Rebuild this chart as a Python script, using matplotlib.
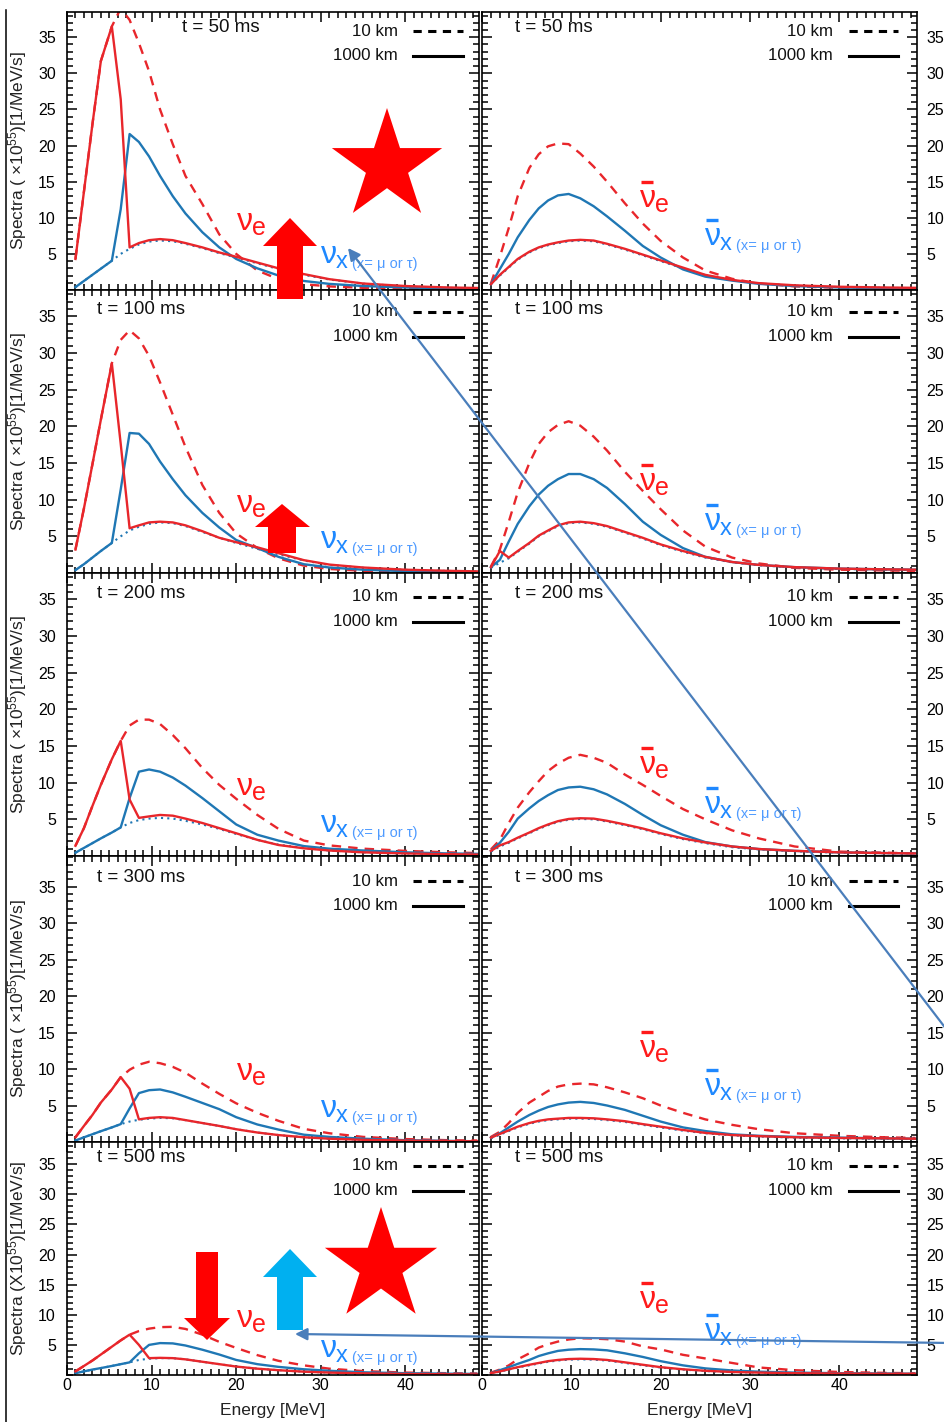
import numpy as np
import matplotlib
matplotlib.use('Agg')
import matplotlib.pyplot as plt
from matplotlib.patches import Polygon
from matplotlib.ticker import MultipleLocator, FixedLocator

plt.rcParams['font.family'] = ['Liberation Sans', 'DejaVu Sans']
plt.rcParams['mathtext.default'] = 'regular'

# energy grid [MeV]
energy = [1, 2, 3, 4, 5.3, 6.35, 7.4, 8.5, 9.7, 11, 12.5, 14, 16, 18, 20,
          22.5, 25, 28, 31, 35, 40, 45, 48.5]

times = [50, 100, 200, 300, 500]

# ---- neutrinos (left column), spectra in 1e55 /MeV/s ----
nue_10km_50 = [4.3, 13.6, 22.9, 31.7, 36.5, 39.0, 37.4, 34.2, 30.3, 25.0, 20.2, 15.8, 11.9, 7.7, 5.0, 2.7, 1.5, 0.8, 0.5, 0.3, 0.15, 0.08, 0.05]
nue_1000km_50 = [4.3, 13.6, 22.9, 31.7, 36.5, 26.4, 5.9, 6.5, 6.9, 7.05, 6.9, 6.5, 5.9, 5.2, 4.6, 3.8, 3.0, 2.2, 1.5, 0.9, 0.55, 0.35, 0.28]
nux_10km_50 = [0.4, 1.25, 2.1, 2.95, 4.05, 5.0, 5.7, 6.3, 6.7, 6.85, 6.75, 6.4, 5.8, 5.1, 4.5, 3.7, 2.9, 2.1, 1.45, 0.88, 0.5, 0.3, 0.22]
nux_1000km_50 = [0.4, 1.25, 2.1, 2.95, 4.05, 11.2, 21.6, 20.5, 18.5, 15.8, 13.0, 10.6, 8.0, 5.9, 4.3, 3.0, 2.0, 1.25, 0.85, 0.55, 0.35, 0.22, 0.15]

nue_10km_100 = [3.2, 8.8, 14.8, 20.9, 28.6, 31.8, 33.1, 32.0, 29.6, 26.0, 21.6, 17.2, 12.0, 8.2, 5.4, 3.4, 2.0, 1.0, 0.55, 0.3, 0.15, 0.08, 0.05]
nue_1000km_100 = [3.2, 8.8, 14.8, 20.9, 28.6, 17.6, 6.1, 6.5, 6.9, 7.0, 6.9, 6.5, 5.7, 4.8, 4.2, 3.5, 2.7, 1.75, 1.15, 0.75, 0.45, 0.3, 0.22]
nux_10km_100 = [0.4, 1.2, 2.1, 3.0, 4.1, 5.0, 5.8, 6.3, 6.7, 6.9, 6.8, 6.4, 5.6, 4.8, 4.1, 3.3, 2.55, 1.7, 1.1, 0.72, 0.43, 0.28, 0.2]
nux_1000km_100 = [0.4, 1.2, 2.1, 3.0, 4.1, 11.4, 19.1, 19.0, 17.6, 15.2, 12.8, 10.6, 8.2, 6.2, 4.5, 3.4, 2.2, 1.2, 0.75, 0.45, 0.25, 0.15, 0.1]

nue_10km_200 = [1.4, 3.8, 6.8, 9.7, 13.2, 15.7, 17.8, 18.6, 18.6, 18.0, 16.5, 14.7, 12.0, 9.7, 7.8, 5.6, 3.7, 2.1, 1.45, 1.0, 0.7, 0.5, 0.4]
nue_1000km_200 = [1.4, 3.8, 6.8, 9.7, 13.2, 15.7, 7.7, 5.2, 5.4, 5.6, 5.5, 5.1, 4.5, 3.8, 3.1, 2.2, 1.5, 1.05, 0.75, 0.5, 0.35, 0.25, 0.2]
nux_10km_200 = [0.45, 1.1, 1.75, 2.4, 3.2, 3.9, 4.5, 4.9, 5.1, 5.2, 5.1, 4.8, 4.3, 3.7, 3.0, 2.2, 1.55, 1.1, 0.75, 0.5, 0.33, 0.23, 0.2]
nux_1000km_200 = [0.45, 1.1, 1.75, 2.4, 3.2, 3.9, 7.9, 11.5, 11.8, 11.5, 10.7, 9.6, 7.9, 6.1, 4.3, 2.9, 2.1, 1.35, 1.0, 0.75, 0.5, 0.35, 0.3]

nue_10km_300 = [0.65, 2.2, 3.7, 5.4, 7.2, 8.9, 9.9, 10.6, 11.0, 10.8, 10.3, 9.5, 8.0, 6.6, 5.3, 4.0, 2.9, 1.8, 1.2, 0.7, 0.4, 0.25, 0.2]
nue_1000km_300 = [0.65, 2.2, 3.7, 5.4, 7.2, 8.9, 7.3, 3.1, 3.3, 3.4, 3.3, 3.0, 2.6, 2.2, 1.75, 1.3, 0.95, 0.65, 0.45, 0.3, 0.2, 0.12, 0.1]
nux_10km_300 = [0.2, 0.64, 1.06, 1.48, 2.0, 2.45, 2.8, 3.05, 3.2, 3.3, 3.25, 3.0, 2.6, 2.2, 1.75, 1.3, 0.95, 0.65, 0.45, 0.3, 0.2, 0.12, 0.1]
nux_1000km_300 = [0.2, 0.64, 1.06, 1.48, 2.0, 2.45, 4.6, 6.7, 7.1, 7.2, 6.8, 6.2, 5.35, 4.5, 3.4, 2.4, 1.7, 1.0, 0.7, 0.45, 0.25, 0.15, 0.1]

nue_10km_500 = [0.6, 1.5, 2.4, 3.4, 4.7, 5.75, 6.7, 7.3, 7.7, 7.95, 8.0, 7.65, 6.7, 5.5, 4.5, 3.3, 2.35, 1.6, 1.05, 0.65, 0.4, 0.3, 0.25]
nue_1000km_500 = [0.6, 1.5, 2.4, 3.4, 4.7, 5.75, 6.7, 5.0, 2.8, 2.85, 2.8, 2.6, 2.2, 1.8, 1.4, 1.05, 0.8, 0.55, 0.4, 0.28, 0.18, 0.12, 0.1]
nux_10km_500 = [0.3, 0.6, 0.9, 1.15, 1.5, 1.8, 2.1, 2.5, 2.7, 2.8, 2.8, 2.6, 2.2, 1.8, 1.4, 1.05, 0.8, 0.55, 0.4, 0.28, 0.18, 0.12, 0.1]
nux_1000km_500 = [0.3, 0.6, 0.9, 1.15, 1.5, 1.8, 2.1, 3.6, 5.0, 5.3, 5.25, 4.9, 4.2, 3.4, 2.5, 1.8, 1.35, 0.95, 0.7, 0.45, 0.3, 0.22, 0.18]

# ---- anti-neutrinos (right column) ----
anue_10km_50 = [0.9, 4.6, 8.6, 13.0, 16.9, 18.8, 19.9, 20.3, 20.2, 18.9, 17.1, 15.0, 12.0, 9.2, 6.8, 4.5, 2.7, 1.55, 0.9, 0.5, 0.3, 0.2, 0.15]
anue_1000km_50 = [0.8, 2.1, 3.2, 4.3, 5.3, 5.9, 6.3, 6.6, 6.85, 6.95, 6.85, 6.4, 5.7, 4.9, 4.1, 3.1, 2.1, 1.4, 0.95, 0.65, 0.45, 0.35, 0.3]
anux_10km_50 = [0.8, 2.0, 3.1, 4.2, 5.2, 5.8, 6.2, 6.5, 6.75, 6.85, 6.75, 6.3, 5.6, 4.8, 4.0, 3.0, 2.05, 1.35, 0.9, 0.6, 0.4, 0.3, 0.25]
anux_1000km_50 = [0.8, 2.9, 5.0, 7.3, 9.7, 11.3, 12.4, 13.1, 13.3, 12.7, 11.6, 10.2, 8.2, 6.1, 4.5, 2.85, 1.85, 1.3, 0.85, 0.55, 0.35, 0.25, 0.2]

anue_10km_100 = [0.9, 3.2, 7.0, 11.0, 15.0, 17.6, 19.2, 20.2, 20.7, 20.1, 18.6, 16.7, 13.8, 11.2, 8.7, 5.8, 3.6, 2.1, 1.3, 0.7, 0.45, 0.35, 0.3]
anue_1000km_100 = [0.8, 3.0, 2.1, 3.0, 4.1, 5.1, 5.8, 6.5, 6.9, 7.0, 6.8, 6.4, 5.6, 4.8, 3.9, 3.0, 2.2, 1.5, 1.1, 0.8, 0.6, 0.5, 0.45]
anux_10km_100 = [0.7, 1.4, 2.0, 2.9, 4.0, 5.0, 5.7, 6.4, 6.8, 6.9, 6.7, 6.3, 5.5, 4.7, 3.8, 2.9, 2.1, 1.45, 1.05, 0.75, 0.55, 0.45, 0.4]
anux_1000km_100 = [0.8, 1.8, 4.3, 6.7, 9.1, 10.7, 11.9, 12.8, 13.5, 13.5, 12.8, 11.6, 9.4, 7.0, 5.2, 3.4, 2.2, 1.5, 1.1, 0.8, 0.6, 0.5, 0.45]

anue_10km_200 = [0.9, 2.2, 4.5, 6.6, 8.7, 10.2, 11.6, 12.6, 13.4, 13.8, 13.4, 12.7, 11.1, 9.7, 8.2, 6.4, 5.0, 3.5, 2.4, 1.3, 0.6, 0.45, 0.35]
anue_1000km_200 = [0.7, 1.45, 1.9, 2.5, 3.2, 3.8, 4.3, 4.75, 5.05, 5.15, 5.1, 4.8, 4.3, 3.75, 3.1, 2.4, 1.85, 1.3, 0.95, 0.7, 0.5, 0.4, 0.35]
anux_10km_200 = [0.6, 1.3, 1.8, 2.4, 3.1, 3.7, 4.2, 4.65, 4.95, 5.05, 5.0, 4.7, 4.2, 3.65, 3.0, 2.3, 1.75, 1.2, 0.9, 0.65, 0.45, 0.38, 0.33]
anux_1000km_200 = [0.7, 1.8, 3.3, 5.1, 6.5, 7.5, 8.3, 9.0, 9.35, 9.45, 9.1, 8.4, 7.1, 5.6, 4.2, 2.9, 1.9, 1.3, 0.95, 0.7, 0.5, 0.4, 0.35]

anue_10km_300 = [0.7, 1.4, 2.6, 4.0, 5.4, 6.2, 7.0, 7.6, 7.9, 8.0, 7.9, 7.5, 6.8, 6.0, 5.0, 4.0, 3.1, 2.35, 1.75, 1.2, 0.85, 0.65, 0.55]
anue_1000km_300 = [0.6, 1.1, 1.6, 2.1, 2.6, 2.9, 3.1, 3.2, 3.3, 3.3, 3.25, 3.1, 2.85, 2.45, 2.1, 1.65, 1.25, 0.95, 0.8, 0.65, 0.55, 0.5, 0.45]
anux_10km_300 = [0.5, 1.0, 1.5, 2.0, 2.5, 2.8, 3.0, 3.1, 3.2, 3.2, 3.15, 3.0, 2.75, 2.35, 2.0, 1.55, 1.2, 0.9, 0.75, 0.6, 0.5, 0.45, 0.4]
anux_1000km_300 = [0.6, 1.2, 2.0, 2.8, 3.7, 4.3, 4.8, 5.15, 5.4, 5.5, 5.35, 5.0, 4.4, 3.6, 2.8, 2.0, 1.5, 1.05, 0.85, 0.7, 0.6, 0.5, 0.45]

anue_10km_500 = [0.4, 0.9, 1.6, 2.6, 3.6, 4.55, 5.1, 5.55, 5.9, 6.1, 6.05, 5.95, 5.55, 4.75, 4.25, 3.35, 2.75, 2.0, 1.25, 0.8, 0.5, 0.35, 0.3]
anue_1000km_500 = [0.3, 0.6, 0.95, 1.3, 1.7, 2.0, 2.3, 2.5, 2.65, 2.7, 2.65, 2.5, 2.1, 1.7, 1.3, 0.95, 0.7, 0.5, 0.4, 0.3, 0.25, 0.2, 0.2]
anux_10km_500 = [0.25, 0.55, 0.9, 1.25, 1.6, 1.9, 2.2, 2.4, 2.55, 2.6, 2.55, 2.4, 2.0, 1.6, 1.25, 0.9, 0.65, 0.48, 0.38, 0.28, 0.22, 0.18, 0.18]
anux_1000km_500 = [0.3, 0.8, 1.3, 1.85, 2.5, 3.15, 3.6, 4.0, 4.2, 4.3, 4.25, 4.1, 3.6, 3.0, 2.3, 1.6, 1.1, 0.75, 0.55, 0.4, 0.3, 0.25, 0.2]

left_sets = [
    (nue_10km_50, nue_1000km_50, nux_10km_50, nux_1000km_50),
    (nue_10km_100, nue_1000km_100, nux_10km_100, nux_1000km_100),
    (nue_10km_200, nue_1000km_200, nux_10km_200, nux_1000km_200),
    (nue_10km_300, nue_1000km_300, nux_10km_300, nux_1000km_300),
    (nue_10km_500, nue_1000km_500, nux_10km_500, nux_1000km_500),
]
right_sets = [
    (anue_10km_50, anue_1000km_50, anux_10km_50, anux_1000km_50),
    (anue_10km_100, anue_1000km_100, anux_10km_100, anux_1000km_100),
    (anue_10km_200, anue_1000km_200, anux_10km_200, anux_1000km_200),
    (anue_10km_300, anue_1000km_300, anux_10km_300, anux_1000km_300),
    (anue_10km_500, anue_1000km_500, anux_10km_500, anux_1000km_500),
]

# ---- layout (pixels) ----
W, H = 945, 1422
RED = '#e8262b'
BLUE = '#1f77b4'
LABEL_RED = '#ff1a1a'
LABEL_BLUE = '#1e88ff'
SMALL_BLUE = '#4f9bff'
ARROW_BLUE = '#4a7ebb'

row_top = [12, 290, 573, 856, 1142]
row_bot = [290, 573, 856, 1142, 1375]
col_x = [(67, 479), (482, 917)]
ytop = [38.5, 38.6, 38.6, 39.2, 38.7]
title_dy = [15, 19, 20, 21.5, 15]
legend_dy = [19, 21.5, 23.5, 25, 23.5]

fig = plt.figure(figsize=(W / 100, H / 100), dpi=100)
fig.patch.set_facecolor('white')

axes = {}
for r in range(5):
    for c in range(2):
        x0, x1 = col_x[c]
        ax = fig.add_axes([x0 / W, 1 - row_bot[r] / H, (x1 - x0) / W, (row_bot[r] - row_top[r]) / H])
        axes[(r, c)] = ax
        d10, d1000, x10, x1000 = (left_sets if c == 0 else right_sets)[r]
        ax.plot(energy, x10, color=BLUE, lw=1.5, ls=(0, (1, 2.0)))
        ax.plot(energy, d10, color=RED, lw=1.7, ls=(0, (4, 3)))
        ax.plot(energy, x1000, color=BLUE, lw=1.7)
        ax.plot(energy, d1000, color=RED, lw=1.7)
        ax.set_xlim(0, 48.7)
        ax.set_ylim(0, ytop[r])
        ax.xaxis.set_major_locator(MultipleLocator(10))
        ax.xaxis.set_minor_locator(MultipleLocator(1))
        ax.yaxis.set_major_locator(FixedLocator([5, 10, 15, 20, 25, 30, 35]))
        ax.yaxis.set_minor_locator(MultipleLocator(1))
        ax.tick_params(which='both', direction='in', top=True, right=True, width=1.1,
                       labelsize=11.5, colors='black')
        ax.tick_params(which='major', length=7)
        ax.tick_params(which='minor', length=4)
        ax.tick_params(axis='x', pad=2, labelbottom=(r == 4))
        if c == 0:
            ax.tick_params(axis='y', pad=8, labelleft=True, labelright=False)
            lab = 'Spectra (X10$^{55}$)[1/MeV/s]' if r == 4 else 'Spectra ( \u00d710$^{55}$)[1/MeV/s]'
            ax.set_ylabel(lab, fontsize=12.5, color='#222222')
            ax.yaxis.set_label_coords(-0.092, 0.5)
        else:
            ax.tick_params(axis='y', pad=7, labelleft=False, labelright=True)
        if r == 4:
            ax.set_xlabel('Energy [MeV]', fontsize=12.5, color='#222222')
            ax.xaxis.set_label_coords(0.5, -0.12)
        for s in ax.spines.values():
            s.set_linewidth(1.2)

# ---- overlay in pixel coordinates for text and slide annotations ----
ov = fig.add_axes([0, 0, 1, 1], zorder=10)
ov.set_xlim(0, W)
ov.set_ylim(H, 0)
ov.axis('off')
ov.patch.set_alpha(0)

for r in range(5):
    for c in range(2):
        x0, x1 = col_x[c]
        tx = (182 if r == 0 else 97) if c == 0 else 515
        ov.text(tx, row_top[r] + title_dy[r], 't = %d ms' % times[r], fontsize=13.5,
                ha='left', va='center', color='#111111')
        ly = row_top[r] + legend_dy[r]
        txt_r = x1 - (81 if c == 0 else 84)
        ln0 = x1 - (66 if c == 0 else 68)
        ln1 = x1 - (16 if c == 0 else 19)
        ov.text(txt_r, ly, '10 km', fontsize=12.2, ha='right', va='center', color='#111111')
        ov.text(txt_r, ly + 25, '1000 km', fontsize=12.2, ha='right', va='center', color='#111111')
        ov.plot([ln0, ln1], [ly, ly], color='black', lw=2.2, ls=(0, (2.7, 2.1)))
        ov.plot([ln0, ln1], [ly + 25, ly + 25], color='black', lw=2.2)


def nu_label(x, y, sub, color, bar=False, note=None):
    ov.text(x, y, '\u03bd', fontsize=23, color=color, ha='left', va='baseline')
    ov.text(x + 15, y + 5, sub, fontsize=18 if sub == 'e' else 17, color=color,
            ha='left', va='baseline')
    if bar:
        ov.plot([x + 1, x + 13], [y - 25, y - 25], color=color, lw=2.4, solid_capstyle='butt')
    if note:
        ov.text(x + 31, y + 5, note, fontsize=10.5, color=SMALL_BLUE, ha='left', va='baseline')


nue_y = [230, 512, 795, 1080, 1327]
nux_y = [263, 548, 832, 1117, 1357]
anue_y = [207, 490, 773, 1057, 1308]
anux_y = [245, 530, 813, 1095, 1340]
for r in range(5):
    nu_label(237, nue_y[r], 'e', LABEL_RED)
    nu_label(321, nux_y[r], 'x', LABEL_BLUE, note='(x= \u03bc or \u03c4)')
    nu_label(640, anue_y[r], 'e', LABEL_RED, bar=True)
    nu_label(705, anux_y[r], 'x', LABEL_BLUE, bar=True, note='(x= \u03bc or \u03c4)')


def star(cx, cy, R):
    ang = np.arange(10) * np.pi / 5
    rad = np.where(np.arange(10) % 2 == 0, R, R * 0.382)
    return np.column_stack([cx + rad * np.sin(ang), cy - rad * np.cos(ang)])


ov.add_patch(Polygon(star(387, 166, 58), closed=True, color='#ff0000', lw=0))
ov.add_patch(Polygon(star(381, 1266, 59), closed=True, color='#ff0000', lw=0))

# block arrows
up1 = [(277, 299), (277, 246), (263, 246), (290, 218), (317, 246), (303, 246), (303, 299)]
up2 = [(268, 553), (268, 527), (255, 527), (282, 504), (310, 527), (296, 527), (296, 553)]
down5 = [(196, 1252), (196, 1318), (184, 1318), (207, 1340), (230, 1318), (218, 1318), (218, 1252)]
up5 = [(277, 1330), (277, 1277), (263, 1277), (290, 1249), (317, 1277), (303, 1277), (303, 1330)]
for pts, col in [(up1, '#ff0000'), (up2, '#ff0000'), (down5, '#ff0000'), (up5, '#00b0f0')]:
    ov.add_patch(Polygon(pts, closed=True, color=col, lw=0))

# connector lines
ov.annotate('', xy=(348, 248), xytext=(950, 1034), annotation_clip=False,
            arrowprops=dict(arrowstyle='-|>', color=ARROW_BLUE, lw=1.6,
                            mutation_scale=18, shrinkA=0, shrinkB=0))
ov.annotate('', xy=(295, 1334), xytext=(950, 1343), annotation_clip=False,
            arrowprops=dict(arrowstyle='-|>', color=ARROW_BLUE, lw=1.6,
                            mutation_scale=18, shrinkA=0, shrinkB=0))

ov.plot([6, 6], [10, H], color='black', lw=1.1)

fig.savefig('out.png', dpi=100, facecolor='white')
